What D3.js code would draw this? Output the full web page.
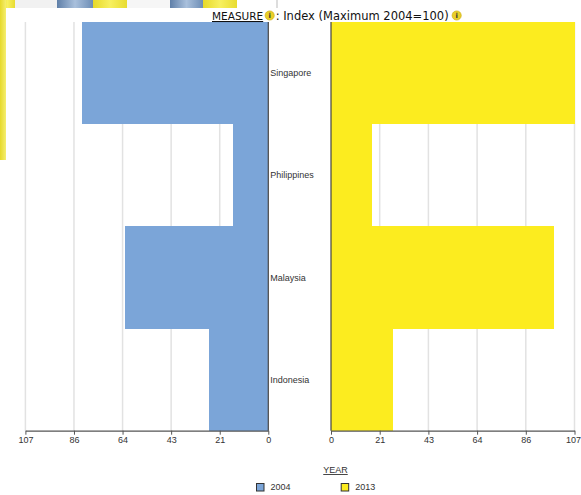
<!DOCTYPE html>
<html>
<head>
<meta charset="utf-8">
<script src="https://cdn.jsdelivr.net/npm/d3@7"></script>
<style>
  html, body { margin: 0; padding: 0; background: #fff; }
  svg { display: block; }
</style>
</head>
<body>
<svg id="chart" width="581" height="495"></svg>
<script>
// ---- data ----
const categories = ["Singapore", "Philippines", "Malaysia", "Indonesia"];
const years = ["2004", "2013"];
const values2004 = [82.2, 15.7, 63.1, 26.0];
const values2013 = [107, 17.9, 98.2, 27.2];
const tickValues = [0, 21.4, 42.8, 64.2, 85.6, 107];
const tickLabels = ["0", "21", "43", "64", "86", "107"];
const axisMax = 107;
const titleLabel = "MEASURE";
const titleText = ": Index (Maximum 2004=100)";
const legendTitle = "YEAR";

// ---- styles ----
const colors = { "2004": "#7ba5d8", "2013": "#fcec1f" };
const svg = d3.select("#chart");
const fontLabel = "'Liberation Sans', Arial, sans-serif";
const fontTitle = "'DejaVu Sans', Verdana, sans-serif";

// ---- backdrop (partially visible page behind the chart) ----
const bg = svg.append("g");
const defs = svg.append("defs");
const gY = defs.append("linearGradient").attr("id", "gy").attr("x1", 0).attr("x2", 1);
gY.append("stop").attr("offset", 0).attr("stop-color", "#e6d92a");
gY.append("stop").attr("offset", 1).attr("stop-color", "#f5ee70");
const gB = defs.append("linearGradient").attr("id", "gb").attr("x1", 0).attr("x2", 1);
gB.append("stop").attr("offset", 0).attr("stop-color", "#5f7fa8");
gB.append("stop").attr("offset", 0.5).attr("stop-color", "#a9c0dc");
gB.append("stop").attr("offset", 1).attr("stop-color", "#6d8db5");
const gG = defs.append("linearGradient").attr("id", "gg").attr("x1", 0).attr("x2", 1);
gG.append("stop").attr("offset", 0).attr("stop-color", "#e6d92a");
gG.append("stop").attr("offset", 0.5).attr("stop-color", "#f7f060");
gG.append("stop").attr("offset", 1).attr("stop-color", "#e8dc30");
const strip = [
  {x: 0, w: 15, f: "url(#gg)"}, {x: 15, w: 42, f: "#f1f1f1"},
  {x: 57, w: 36, f: "url(#gb)"}, {x: 93, w: 34, f: "url(#gg)"},
  {x: 127, w: 43, f: "#f6f6f6"}, {x: 170, w: 33, f: "url(#gb)"},
  {x: 203, w: 34, f: "url(#gg)"}
];
bg.selectAll("rect.s").data(strip).join("rect")
  .attr("x", d => d.x).attr("y", 0).attr("width", d => d.w).attr("height", 8)
  .attr("fill", d => d.f);
bg.append("rect").attr("x", 0).attr("y", 0).attr("width", 6).attr("height", 160).attr("fill", "url(#gy)");
bg.append("line").attr("x1", 277).attr("x2", 277).attr("y1", 0).attr("y2", 8)
  .attr("stroke", "#bbb").attr("stroke-width", 1);

// ---- scales ----
const plotTop = 22, plotBottom = 430.7;
const y = d3.scaleBand().domain(categories).range([plotTop, plotBottom]).padding(0);
const xLeft = d3.scaleLinear().domain([0, axisMax]).range([268.3, 25.4]);
const xRight = d3.scaleLinear().domain([0, axisMax]).range([331, 574.5]);

function panel(xs, values, color, isRight) {
  const g = svg.append("g");
  // gridlines
  g.selectAll("line.grid").data(tickValues.filter(v => v > 0)).join("line")
    .attr("x1", d => xs(d)).attr("x2", d => xs(d))
    .attr("y1", plotTop).attr("y2", plotBottom)
    .attr("stroke", "#e2e2e2").attr("stroke-width", 1.5);
  // bars
  g.selectAll("rect.bar").data(categories).join("rect")
    .attr("x", (d, i) => Math.min(xs(0), xs(values[i])))
    .attr("y", d => y(d))
    .attr("width", (d, i) => Math.abs(xs(values[i]) - xs(0)))
    .attr("height", y.bandwidth())
    .attr("fill", color)
    .attr("shape-rendering", "crispEdges");
  // x axis
  const axis = d3.axisBottom(xs).tickValues(tickValues)
    .tickFormat((d, i) => tickLabels[i]).tickSize(4).tickSizeOuter(0);
  const ax = g.append("g").attr("transform", `translate(0,${plotBottom})`).call(axis);
  ax.select(".domain").attr("stroke", "#555").attr("stroke-width", 1.2);
  ax.selectAll(".tick line").attr("stroke", "#555");
  ax.selectAll(".tick text").attr("font-family", fontLabel).attr("font-size", 9)
    .attr("fill", "#333").attr("dy", "0.55em")
    .attr("dx", (d, i) => (isRight && i === tickValues.length - 1) ? -1.5 : 0);
  // zero (category) axis
  g.append("line").attr("x1", xs(0)).attr("x2", xs(0))
    .attr("y1", plotTop).attr("y2", plotBottom)
    .attr("stroke", "#444").attr("stroke-width", 1.2);
}
panel(xLeft, values2004, colors["2004"], false);
panel(xRight, values2013, colors["2013"], true);

// ---- category labels ----
svg.append("g").selectAll("text").data(categories).join("text")
  .attr("x", xLeft(0) + 2)
  .attr("y", d => y(d) + y.bandwidth() / 2)
  .attr("dy", "0.35em")
  .attr("font-family", fontLabel).attr("font-size", 9).attr("fill", "#333")
  .text(d => d);

// ---- title ----
function infoIcon(g, cx, cy) {
  g.append("circle").attr("cx", cx).attr("cy", cy).attr("r", 4.6).attr("fill", "#e9cf2a")
    .attr("stroke", "#c9a80e").attr("stroke-width", 0.6);
  g.append("text").attr("x", cx).attr("y", cy).attr("dy", "0.35em").attr("text-anchor", "middle")
    .attr("font-family", fontTitle).attr("font-size", 7).attr("font-weight", "bold")
    .attr("fill", "#333").text("i");
}
const tg = svg.append("g");
const titleX = 212;
const t1 = tg.append("text").attr("x", titleX).attr("y", 20)
  .attr("font-family", fontTitle).attr("font-size", 10.5).attr("fill", "#111")
  .attr("text-decoration", "underline").text(titleLabel);
const w1 = t1.node().getComputedTextLength();
infoIcon(tg, titleX + w1 + 6.5, 15.5);
const t2x = titleX + w1 + 12.5;
const t2 = tg.append("text").attr("x", t2x).attr("y", 20)
  .attr("font-family", fontTitle).attr("font-size", 11.5).attr("fill", "#111").text(titleText);
const w2 = t2.node().getComputedTextLength();
infoIcon(tg, t2x + w2 + 8, 15.5);

// ---- legend ----
const lg = svg.append("g");
lg.append("text").attr("x", 335.5).attr("y", 473).attr("text-anchor", "middle")
  .attr("font-family", fontLabel).attr("font-size", 9).attr("fill", "#333")
  .attr("text-decoration", "underline").text(legendTitle);
const legendX = d3.scalePoint().domain(years).range([256.5, 341.2]);
const items = lg.selectAll("g.item").data(years).join("g")
  .attr("transform", d => `translate(${legendX(d)},483.5)`);
items.append("rect").attr("width", 7.5).attr("height", 7.5)
  .attr("fill", d => colors[d]).attr("stroke", "#333").attr("stroke-width", 1);
items.append("text").attr("x", 14).attr("y", 3.8).attr("dy", "0.35em")
  .attr("font-family", fontLabel).attr("font-size", 9).attr("fill", "#333")
  .text(d => d);
</script>
</body>
</html>
